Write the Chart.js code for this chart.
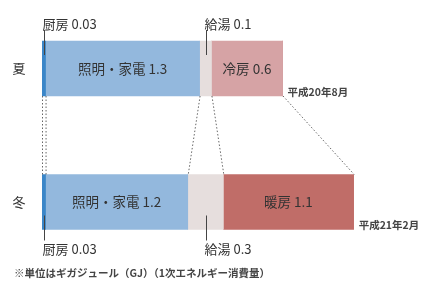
<!DOCTYPE html>
<html>
<head>
<meta charset="utf-8">
<script src="https://cdn.jsdelivr.net/npm/chart.js@4/dist/chart.umd.min.js"></script>
<style>
  html, body { margin: 0; padding: 0; background: #fff; }
  #wrap { width: 429px; height: 287px; position: relative; }
</style>
</head>
<body>
<div id="wrap"><canvas id="myChart"></canvas></div>
<script>
// data (GJ)
const seasons = ['夏', '冬'];
const periods = ['平成20年8月', '平成21年2月'];
const kitchen = [0.03, 0.03];
const lighting = [1.3, 1.2];
const hotWater = [0.1, 0.3];
const cooling = [0.6, 0];
const heating = [0, 1.1];
const note = '※単位はギガジュール（GJ）（1次エネルギー消費量）';

const FONT = '"Noto Sans CJK JP", "Noto Sans", sans-serif';
const ctx = document.getElementById('myChart');

// labels, callouts, dotted connectors
const annotate = {
  id: 'annotate',
  afterDatasetsDraw(chart) {
    const c = chart.ctx;
    const xs = chart.scales.x;
    const sets = chart.data.datasets;
    c.save();
    c.textBaseline = 'middle';

    // names inside the bigger segments
    [1, 3, 4].forEach(function (i) {
      chart.getDatasetMeta(i).data.forEach(function (bar, j) {
        const v = sets[i].data[j];
        if (!v) return;
        c.fillStyle = '#333';
        c.font = '13.5px ' + FONT;
        c.textAlign = 'center';
        c.fillText(sets[i].label + ' ' + v, (bar.x + bar.base) / 2, bar.y);
      });
    });

    // callouts for thin segments (above for summer, below for winter)
    [0, 2].forEach(function (i) {
      chart.getDatasetMeta(i).data.forEach(function (bar, j) {
        const v = sets[i].data[j];
        const lx = Math.round((bar.x + bar.base) / 2) + 0.5;
        const top = bar.y - bar.height / 2;
        const bot = bar.y + bar.height / 2;
        let y1, y2, ty;
        if (j == 0) { y1 = top - 11; y2 = top + 14; ty = top - 17; }
        else { y1 = bot - 14; y2 = bot + 11; ty = bot + 20; }
        c.strokeStyle = '#444';
        c.lineWidth = 1;
        c.beginPath();
        c.moveTo(lx, y1);
        c.lineTo(lx, y2);
        c.stroke();
        c.fillStyle = '#333';
        c.font = '13px ' + FONT;
        c.textAlign = 'left';
        c.fillText(sets[i].label + ' ' + v, lx - 2, ty);
      });
    });

    // season labels + period labels
    const m0 = chart.getDatasetMeta(0).data;
    m0.forEach(function (bar, j) {
      c.fillStyle = '#333';
      c.font = '13px ' + FONT;
      c.textAlign = 'center';
      c.fillText(seasons[j], 19, bar.y);
      const total = kitchen[j] + lighting[j] + hotWater[j] + cooling[j] + heating[j];
      c.fillStyle = '#444';
      c.font = 'bold 10.5px ' + FONT;
      c.textAlign = 'left';
      c.fillText(periods[j], xs.getPixelForValue(total) + 5, bar.y + bar.height / 2 - 4);
    });

    // dotted connectors between cumulative boundaries
    const sumY = m0[0].y + m0[0].height / 2;
    const winY = m0[1].y - m0[1].height / 2;
    const cum = function (j) {
      const parts = [kitchen[j], lighting[j], hotWater[j], cooling[j] + heating[j]];
      const out = [0];
      let s = 0;
      parts.forEach(function (p) { s += p; out.push(s); });
      return out;
    };
    const a = cum(0), b = cum(1);
    c.strokeStyle = '#666';
    c.lineWidth = 1;
    c.setLineDash([1.5, 2]);
    for (let k = 0; k < a.length; k++) {
      c.beginPath();
      c.moveTo(xs.getPixelForValue(a[k]) + 0.5, sumY);
      c.lineTo(xs.getPixelForValue(b[k]) + 0.5, winY);
      c.stroke();
    }
    c.setLineDash([]);

    // footnote
    c.fillStyle = '#444';
    c.font = 'bold 10.5px ' + FONT;
    c.textAlign = 'left';
    c.fillText(note, 14, 273);
    c.restore();
  }
};

new Chart(ctx, {
  type: 'bar',
  data: {
    labels: seasons,
    datasets: [
      { label: '厨房', data: kitchen, backgroundColor: '#3b86c8' },
      { label: '照明・家電', data: lighting, backgroundColor: '#93b8dd' },
      { label: '給湯', data: hotWater, backgroundColor: '#e6dedd' },
      { label: '冷房', data: cooling, backgroundColor: '#d6a3a5' },
      { label: '暖房', data: heating, backgroundColor: '#c06d68' }
    ]
  },
  options: {
    indexAxis: 'y',
    responsive: true,
    maintainAspectRatio: false,
    animation: false,
    datasets: { bar: { barThickness: 55, borderWidth: 0 } },
    layout: { padding: { left: 42, right: 31.5, top: 1.75, bottom: 18.25 } },
    scales: {
      x: { stacked: true, display: false, min: 0, max: 3 },
      y: { stacked: true, display: false }
    },
    plugins: { legend: { display: false }, tooltip: { enabled: false } }
  },
  plugins: [annotate]
});
</script>
</body>
</html>
